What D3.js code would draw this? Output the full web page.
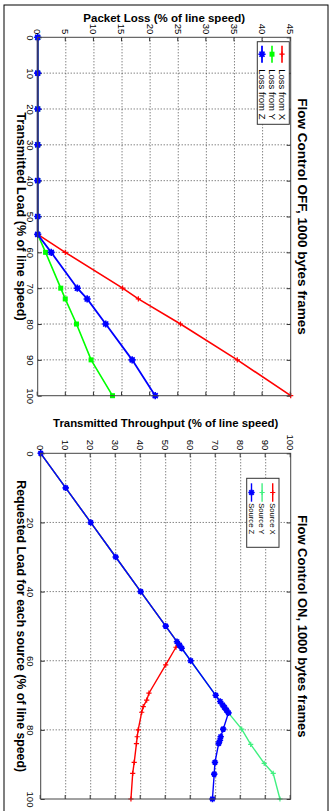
<!DOCTYPE html>
<html><head><meta charset="utf-8">
<script src="https://cdn.jsdelivr.net/npm/d3@7"></script>
<style>body{margin:0;background:#fff}svg{display:block}text{font-family:"Liberation Sans",Arial,Helvetica,sans-serif}</style>
</head><body><svg id="c" width="334" height="811"></svg>
<script>
// ---------- Data: Flow Control OFF ----------
const loadOff = [0,10,20,30,40,50,55,60,70,73,80,90,100];
const lossX   = [0,0,0,0,0,0,0,4.9,15.1,17.9,25.4,35.5,45];
const lossY   = [0,0,0,0,0,0,0,1.4,4.1,4.9,6.9,9.5,13.3];
const lossZ   = [0,0,0,0,0,0,0,2.4,7.05,8.8,12.1,16.8,20.9];
const lossTicks = [0,5,10,15,20,25,30,35,40,45];
const loadTicksOff = [0,10,20,30,40,50,60,70,80,90,100];
const legendOff = ["Loss from X","Loss from Y","Loss from Z"];

// ---------- Data: Flow Control ON ----------
const loadOnX = [0,10,20,30,40,50,55,56.1,61.2,69.4,71.4,73.3,74.9,80,82,84,89.4,92.6,100];
const thrX    = [0,10,20,30,40,50,55,54.1,50,43.3,42.4,41,40.4,39,38.6,38.3,37.4,36.8,36.1];
const loadOnY = [0,10,20,30,40,50,54.5,55.5,56.4,60,70,71.8,72.8,73.5,74.3,75.1,79.8,84.2,89.7,92.6,100];
const thrY    = [0,10,20,30,40,50,54.5,55.5,56.4,60,70,71.8,72.8,73.5,74.3,75.1,80.4,84,89.4,93,95.7];
const loadOnZ = [0,10,20,30,40,50,54.5,55.5,56.4,60,70,71.8,72.8,73.5,74.3,75.1,79.8,82,83,83.9,89.4,92.8,100];
const thrZ    = [0,10,20,30,40,50,54.5,55.5,56.4,60,70,71.8,72.8,73.5,74.3,75.1,73,72,71.7,71.2,69.7,69.4,68.7];
const thrTicks = [0,10,20,30,40,50,60,70,80,90,100];
const loadTicksOn = [0,20,40,60,80,100];
const legendOn = ["Source X","Source Y","Source Z"];

// ---------- Drawing ----------
const svg = d3.select('#c');
svg.append('rect').attr('width',334).attr('height',811).attr('fill','#fff');
// whole figure drawn in its original landscape orientation, then turned 90deg clockwise
const g = svg.append('g').attr('transform','translate(334,0) rotate(90)');
g.append('rect').attr('x',5).attr('y',6).attr('width',812).attr('height',324)
  .attr('fill','none').attr('stroke','#000').attr('stroke-width',1);

function markerPath(type, s){
  if(type==='plus') return `M${-s},0H${s}M0,${-s}V${s}`;
  if(type==='star') return `M${-s},0H${s}M0,${-s}V${s}M${-s*0.7},${-s*0.7}L${s*0.7},${s*0.7}M${-s*0.7},${s*0.7}L${s*0.7},${-s*0.7}`;
  return '';
}
function drawMarker(sel, type, color, s){
  if(type==='square'){
    sel.append('rect').attr('x',-s).attr('y',-s).attr('width',2*s).attr('height',2*s).attr('fill',color);
  } else if(type==='star'){
    sel.append('path').attr('d',markerPath('star',s)).attr('stroke',color).attr('stroke-width',1.6).attr('fill','none');
    sel.append('circle').attr('r',s*0.7).attr('fill',color);
  } else {
    sel.append('path').attr('d',markerPath(type,s)).attr('stroke',color).attr('stroke-width',1.2).attr('fill','none');
  }
}

function drawPanel(opt){
  const {x,y,xTicks,yTicks,series,title,xLabel,yLabel,yLabelX,legend,legendBox} = opt;
  const [x0,x1]=x.range(), [y0,y1]=y.range();
  const p = g.append('g');
  // grid
  p.append('g').selectAll('line').data(xTicks.filter(t=>t!==x.domain()[0]&&t!==x.domain()[1])).join('line')
    .attr('x1',d=>x(d)).attr('x2',d=>x(d)).attr('y1',y1).attr('y2',y0)
    .attr('stroke','#222').attr('stroke-width',0.8).attr('stroke-dasharray','1,2');
  p.append('g').selectAll('line').data(yTicks.filter(t=>t!==y.domain()[0]&&t!==y.domain()[1])).join('line')
    .attr('y1',d=>y(d)).attr('y2',d=>y(d)).attr('x1',x0).attr('x2',x1)
    .attr('stroke','#222').attr('stroke-width',0.8).attr('stroke-dasharray','1,2');
  // axes
  const fs = 9.5;
  const axB = p.append('g').attr('transform',`translate(0,${y0})`)
    .call(d3.axisBottom(x).tickValues(xTicks).tickSize(-4).tickPadding(303.5-y0-fs*0.36).tickSizeOuter(0));
  const axT = p.append('g').attr('transform',`translate(0,${y1})`)
    .call(d3.axisTop(x).tickValues(xTicks).tickSize(-4).tickFormat('').tickSizeOuter(0));
  const axL = p.append('g').attr('transform',`translate(${x0},0)`)
    .call(d3.axisLeft(y).tickValues(yTicks).tickSize(-4).tickPadding(3).tickSizeOuter(0));
  const axR = p.append('g').attr('transform',`translate(${x1},0)`)
    .call(d3.axisRight(y).tickValues(yTicks).tickSize(-4).tickFormat('').tickSizeOuter(0));
  [axB,axT,axL,axR].forEach(a=>{
    a.selectAll('.domain').remove();
    a.selectAll('line').attr('stroke','#333');
    a.selectAll('text').attr('font-size',fs).attr('fill','#000')
      .attr('font-family','"Liberation Sans",Arial,sans-serif');
  });
  // series
  series.forEach(s=>{
    const pts = s.xs.map((v,i)=>[v,s.ys[i]]);
    p.append('path').attr('d',d3.line().x(d=>x(d[0])).y(d=>y(d[1]))(pts))
      .attr('fill','none').attr('stroke',s.color).attr('stroke-width',s.lw);
    const mg = p.append('g');
    pts.forEach(d=>{
      const m = mg.append('g').attr('transform',`translate(${x(d[0])},${y(d[1])})`);
      drawMarker(m, s.marker, s.color, s.ms);
    });
  });
  // box
  p.append('rect').attr('x',x0).attr('y',y1).attr('width',x1-x0).attr('height',y0-y1)
    .attr('fill','none').attr('stroke','#444').attr('stroke-width',1);
  // legend
  const lb = legendBox;
  const lg = p.append('g');
  lg.append('rect').attr('x',lb.x).attr('y',lb.y).attr('width',lb.w).attr('height',lb.h)
    .attr('fill','#fff').attr('stroke','#333').attr('stroke-width',1);
  series.forEach((s,i)=>{
    const ry = lb.y + lb.r0 + i*lb.dy;
    lg.append('line').attr('x1',lb.x+lb.l0).attr('x2',lb.x+lb.l1).attr('y1',ry).attr('y2',ry)
      .attr('stroke',s.color).attr('stroke-width',s.lw);
    const m = lg.append('g').attr('transform',`translate(${lb.x+(lb.l0+lb.l1)/2},${ry})`);
    drawMarker(m, s.marker, s.color, s.ms);
    lg.append('text').attr('x',lb.x+lb.tx).attr('y',ry).attr('dy','0.35em')
      .attr('font-size',lb.fs).text(legend[i]);
  });
  // labels
  const cx = (x0+x1)/2, cy=(y0+y1)/2;
  p.append('text').attr('x',cx).attr('y',36.3).attr('text-anchor','middle')
    .attr('font-weight','bold').attr('font-size',title.fs).text(title.text);
  p.append('text').attr('x',cx).attr('y',317).attr('text-anchor','middle')
    .attr('font-weight','bold').attr('font-size',xLabel.fs).text(xLabel.text);
  p.append('text').attr('transform',`translate(${yLabelX},${cy}) rotate(-90)`).attr('text-anchor','middle')
    .attr('font-weight','bold').attr('font-size',yLabel.fs).text(yLabel.text);
}

drawPanel({
  x: d3.scaleLinear().domain([0,100]).range([37.3,395.7]),
  y: d3.scaleLinear().domain([0,45]).range([296.3,43.3]),
  xTicks: loadTicksOff, yTicks: lossTicks,
  series: [
    {xs:loadOff, ys:lossX, color:'#ff0000', marker:'plus', ms:2.6, lw:1.6},
    {xs:loadOff, ys:lossY, color:'#00ff00', marker:'square', ms:2.5, lw:1.6},
    {xs:loadOff, ys:lossZ, color:'#0000ff', marker:'star', ms:3.6, lw:1.8}
  ],
  legend: legendOff,
  legendBox: {x:41.7, y:44.7, w:82.6, h:32, r0:7.3, dy:10, l0:4, l1:21, tx:27.6, fs:9.5},
  title: {text:'Flow Control OFF, 1000 bytes frames', fs:13.5},
  xLabel: {text:'Transmitted Load (% of line speed)', fs:12.6},
  yLabel: {text:'Packet Loss (% of line speed)', fs:11.5},
  yLabelX: 21.7
});

drawPanel({
  x: d3.scaleLinear().domain([0,100]).range([453.3,799]),
  y: d3.scaleLinear().domain([0,100]).range([293.3,43.3]),
  xTicks: loadTicksOn, yTicks: thrTicks,
  series: [
    {xs:loadOnX, ys:thrX, color:'#ff0000', marker:'plus', ms:2.6, lw:1.4},
    {xs:loadOnY, ys:thrY, color:'#40f080', marker:'plus', ms:2.6, lw:1.4},
    {xs:loadOnZ, ys:thrZ, color:'#0000ff', marker:'star', ms:3.2, lw:1.4}
  ],
  legend: legendOn,
  legendBox: {x:478.3, y:55, w:69, h:32.3, r0:6.3, dy:10.6, l0:5, l1:23.4, tx:25, fs:7.6},
  title: {text:'Flow Control ON, 1000 bytes frames', fs:13},
  xLabel: {text:'Requested Load for each source (% of line speed)', fs:12.3},
  yLabel: {text:'Transmitted Throughput (% of line speed)', fs:11.4},
  yLabelX: 426.5
});
</script></body></html>
